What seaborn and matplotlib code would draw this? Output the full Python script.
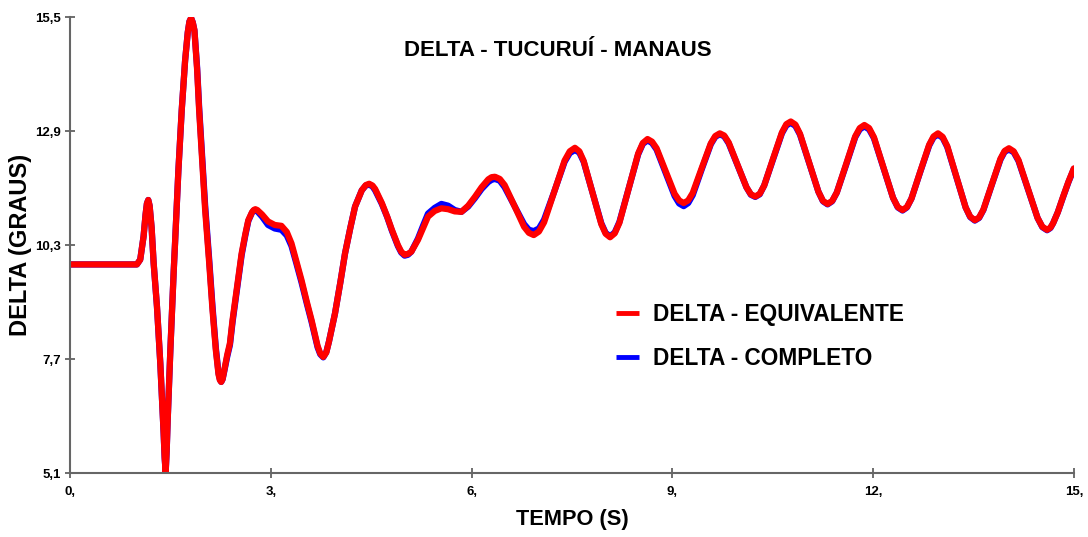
import pandas as pd
import seaborn as sns
import matplotlib.pyplot as plt

# time (s)
tempo = [0.0, 0.5, 1.0, 1.05, 1.1, 1.13, 1.15, 1.17, 1.19, 1.22,
         1.25, 1.3, 1.35, 1.4, 1.415, 1.43, 1.445, 1.46, 1.5, 1.55,
         1.57, 1.62, 1.67, 1.72, 1.76, 1.785, 1.81, 1.835, 1.86, 1.9,
         1.93, 2.02, 2.08, 2.13, 2.18, 2.22, 2.24, 2.26, 2.28, 2.3,
         2.35, 2.39, 2.43, 2.47, 2.52, 2.565, 2.62, 2.665, 2.72, 2.745,
         2.77, 2.8, 2.87, 2.96, 3.06, 3.16, 3.24, 3.31, 3.38, 3.46,
         3.54, 3.61, 3.7, 3.74, 3.785, 3.83, 3.87, 3.96, 4.04, 4.11,
         4.19, 4.26, 4.36, 4.42, 4.47, 4.52, 4.56, 4.66, 4.74, 4.81,
         4.9, 4.95, 5.0, 5.05, 5.1, 5.2, 5.28, 5.35, 5.45, 5.55,
         5.65, 5.75, 5.85, 5.95, 6.05, 6.15, 6.25, 6.3, 6.35, 6.4225,
         6.495, 6.64, 6.785, 6.8575, 6.93, 7.007, 7.084, 7.238, 7.391, 7.468,
         7.545, 7.611, 7.676, 7.808, 7.939, 8.004, 8.07, 8.14, 8.21, 8.35,
         8.49, 8.56, 8.63, 8.6975, 8.765, 8.9, 9.035, 9.1025, 9.17, 9.2375,
         9.305, 9.44, 9.575, 9.6425, 9.71, 9.776, 9.843, 9.975, 10.108, 10.174,
         10.24, 10.306, 10.373, 10.505, 10.638, 10.704, 10.77, 10.839, 10.908, 11.045,
         11.183, 11.251, 11.32, 11.389, 11.458, 11.595, 11.733, 11.801, 11.87, 11.941,
         12.013, 12.155, 12.298, 12.369, 12.44, 12.506, 12.573, 12.705, 12.838, 12.904,
         12.97, 13.039, 13.108, 13.245, 13.383, 13.451, 13.52, 13.584, 13.648, 13.775,
         13.903, 13.966, 14.03, 14.101, 14.173, 14.315, 14.458, 14.529, 14.6, 14.65,
         14.69, 14.76, 14.84, 14.92, 15.0]

# DELTA - EQUIVALENTE (red)
delta_equivalente = [9.86, 9.86, 9.86, 9.97, 10.5, 11.0, 11.25, 11.33, 11.2, 10.7,
                     9.9, 8.9, 7.6, 6.0, 5.45, 5.12, 5.6, 6.3, 7.9, 9.7,
                     10.34, 12.0, 13.38, 14.5, 15.15, 15.4, 15.48, 15.38, 15.2, 14.3,
                     13.38, 11.1, 9.9, 8.82, 7.9, 7.35, 7.22, 7.18, 7.24, 7.4,
                     7.8, 8.06, 8.6, 9.05, 9.6, 10.11, 10.55, 10.87, 11.05, 11.1,
                     11.12, 11.1, 11.0, 10.84, 10.76, 10.74, 10.6, 10.34, 9.95, 9.5,
                     9.0, 8.59, 8.0, 7.83, 7.75, 7.85, 8.1, 8.74, 9.45, 10.11,
                     10.7, 11.18, 11.55, 11.67, 11.7, 11.66, 11.58, 11.26, 10.95, 10.65,
                     10.3, 10.15, 10.08, 10.1, 10.15, 10.42, 10.7, 10.95, 11.08, 11.14,
                     11.12, 11.07, 11.06, 11.2, 11.4, 11.62, 11.8, 11.85, 11.86, 11.81,
                     11.67, 11.2, 10.72, 10.58, 10.53, 10.61, 10.82, 11.53, 12.23, 12.44,
                     12.52, 12.44, 12.22, 11.5, 10.78, 10.56, 10.48, 10.57, 10.81, 11.6,
                     12.39, 12.63, 12.72, 12.66, 12.51, 11.99, 11.47, 11.32, 11.26, 11.32,
                     11.49, 12.06, 12.62, 12.79, 12.85, 12.8, 12.64, 12.13, 11.62, 11.46,
                     11.41, 11.47, 11.66, 12.27, 12.87, 13.06, 13.12, 13.05, 12.84, 12.18,
                     11.52, 11.31, 11.24, 11.31, 11.5, 12.14, 12.78, 12.97, 13.04, 12.97,
                     12.76, 12.07, 11.38, 11.17, 11.1, 11.17, 11.36, 11.98, 12.59, 12.78,
                     12.85, 12.77, 12.56, 11.86, 11.16, 10.95, 10.87, 10.93, 11.11, 11.69,
                     12.27, 12.45, 12.51, 12.44, 12.24, 11.58, 10.92, 10.72, 10.65, 10.7,
                     10.8, 11.05, 11.41, 11.75, 12.05]

# DELTA - COMPLETO (blue)
delta_completo = [9.86, 9.86, 9.86, 9.97, 10.5, 11.0, 11.25, 11.33, 11.2, 10.7,
                  9.9, 8.9, 7.6, 6.0, 5.45, 5.12, 5.6, 6.3, 7.9, 9.7,
                  10.34, 12.0, 13.38, 14.5, 15.15, 15.4, 15.48, 15.38, 15.2, 14.35,
                  13.45, 11.2, 9.98, 8.9, 7.95, 7.38, 7.24, 7.18, 7.24, 7.38,
                  7.76, 8.02, 8.55, 9.0, 9.55, 10.07, 10.52, 10.85, 11.04, 11.09,
                  11.1, 11.07, 10.95, 10.76, 10.68, 10.65, 10.52, 10.28, 9.9, 9.45,
                  8.96, 8.55, 7.97, 7.81, 7.74, 7.86, 8.1, 8.74, 9.45, 10.11,
                  10.7, 11.18, 11.55, 11.66, 11.68, 11.64, 11.55, 11.24, 10.94, 10.63,
                  10.28, 10.13, 10.06, 10.08, 10.15, 10.45, 10.76, 11.02, 11.15, 11.24,
                  11.2, 11.1, 11.06, 11.18, 11.37, 11.58, 11.74, 11.79, 11.81, 11.77,
                  11.62, 11.2, 10.78, 10.65, 10.62, 10.68, 10.88, 11.53, 12.2, 12.4,
                  12.47, 12.41, 12.2, 11.5, 10.8, 10.58, 10.5, 10.59, 10.83, 11.6,
                  12.37, 12.61, 12.69, 12.63, 12.48, 11.95, 11.42, 11.25, 11.19, 11.26,
                  11.44, 12.03, 12.6, 12.77, 12.83, 12.78, 12.62, 12.12, 11.62, 11.45,
                  11.4, 11.46, 11.66, 12.25, 12.85, 13.03, 13.09, 13.02, 12.82, 12.17,
                  11.52, 11.3, 11.23, 11.3, 11.5, 12.12, 12.76, 12.94, 13.01, 12.94,
                  12.74, 12.06, 11.38, 11.16, 11.09, 11.16, 11.36, 11.97, 12.57, 12.76,
                  12.82, 12.75, 12.54, 11.85, 11.16, 10.94, 10.86, 10.92, 11.1, 11.68,
                  12.25, 12.43, 12.48, 12.42, 12.22, 11.57, 10.92, 10.71, 10.64, 10.69,
                  10.8, 11.05, 11.4, 11.74, 12.04]

x_ticks = [0, 3, 6, 9, 12, 15]
x_tick_labels = ['0,', '3,', '6,', '9,', '12,', '15,']
y_ticks = [5.1, 7.7, 10.3, 12.9, 15.5]
y_tick_labels = ['5,1', '7,7', '10,3', '12,9', '15,5']

df = pd.DataFrame({'tempo': tempo, 'equivalente': delta_equivalente, 'completo': delta_completo})

sns.set_style('white')
plt.rcParams['font.family'] = ['Liberation Sans', 'DejaVu Sans']
plt.rcParams['text.color'] = 'black'
plt.rcParams['axes.labelcolor'] = 'black'
plt.rcParams['xtick.color'] = 'black'
plt.rcParams['ytick.color'] = 'black'

fig = plt.figure(figsize=(10.88, 5.37), dpi=100)
ax = fig.add_axes([0.0643, 0.119, 0.9227, 0.849])

line_kw = dict(linewidth=4.5, solid_joinstyle='round', solid_capstyle='round', sort=False)
sns.lineplot(data=df, x='tempo', y='completo', color='#0000ff', ax=ax,
             label='DELTA - COMPLETO', **line_kw)
sns.lineplot(data=df, x='tempo', y='equivalente', color='#ff0000', ax=ax,
             label='DELTA - EQUIVALENTE', **line_kw)

ax.set_xlim(0, 15)
ax.set_ylim(5.1, 15.5)
ax.set_xticks(x_ticks)
ax.set_xticklabels(x_tick_labels, fontsize=9.5, fontweight='bold')
ax.set_yticks(y_ticks)
ax.set_yticklabels(y_tick_labels, fontsize=9.5, fontweight='bold')
ax.tick_params(axis='both', direction='inout', length=7, width=1.2, color='#555555',
               left=True, bottom=True)
ax.tick_params(axis='x', pad=6)
ax.tick_params(axis='y', pad=3)

for side in ['top', 'right']:
    ax.spines[side].set_visible(False)
for side in ['left', 'bottom']:
    ax.spines[side].set_color('#666666')
    ax.spines[side].set_linewidth(1.5)

ax.set_xlabel('TEMPO (S)', fontsize=15.7, fontweight='bold', labelpad=8)
ax.set_ylabel('DELTA (GRAUS)', fontsize=17, fontweight='bold', labelpad=2)

ax.text(0.486, 0.928, 'DELTA - TUCURUÍ - MANAUS', transform=ax.transAxes,
        ha='center', va='center', fontsize=16, fontweight='bold')

handles, labels = ax.get_legend_handles_labels()
leg = ax.legend(handles[::-1], labels[::-1], loc='center left', bbox_to_anchor=(0.524, 0.30),
                frameon=False, handlelength=1.0, handletextpad=0.6, labelspacing=0.95,
                prop={'size': 16.3, 'weight': 'bold'})
for line in leg.get_lines():
    line.set_linewidth(3.5)
    line.set_solid_capstyle('butt')

fig.savefig('out.png', dpi=100)
